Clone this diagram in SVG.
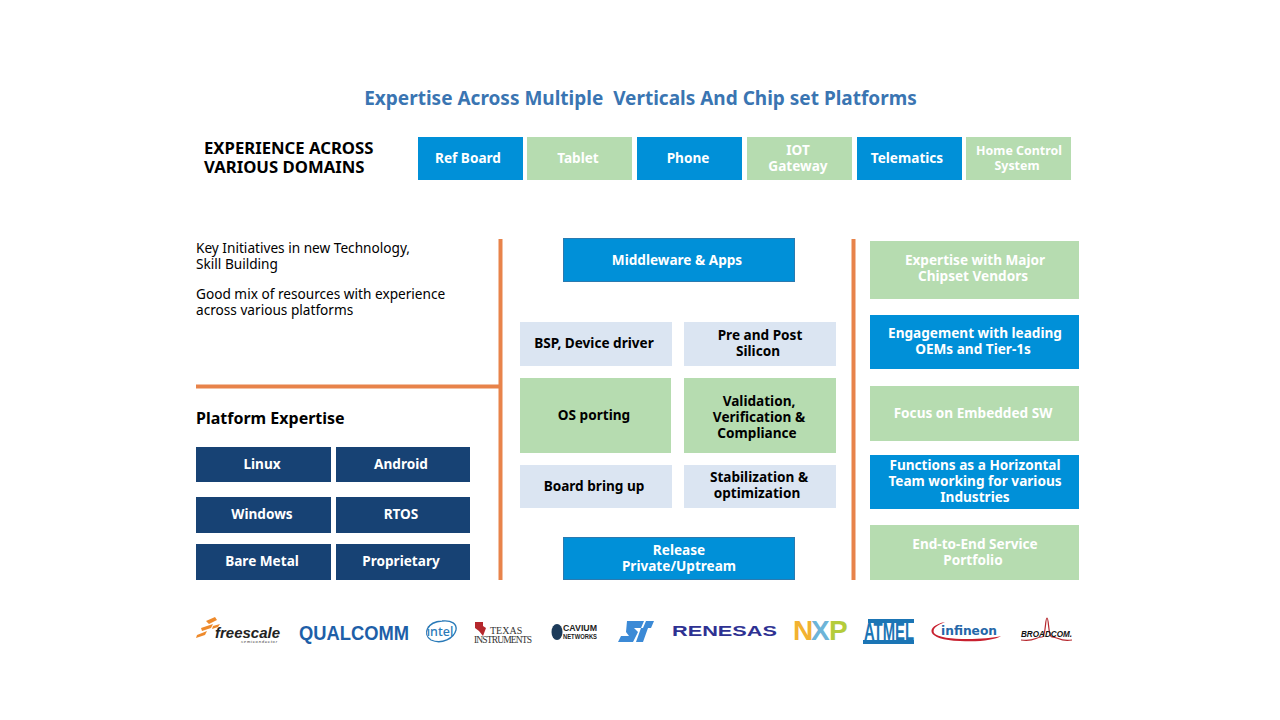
<svg xmlns="http://www.w3.org/2000/svg" width="1280" height="720" viewBox="0 0 1280 720">
<style>
text{font-family:"Noto Sans","Open Sans","Liberation Sans",sans-serif;text-anchor:middle;font-weight:700;font-size:13.600px}
.b{fill:#0090d8}.g{fill:#b6dcb0}.l{fill:#dbe5f2}.n{fill:#174274}
.w{fill:#fff}.k{fill:#000}
.d{fill:#000;font-weight:400;text-anchor:start;font-size:13.650px}
.h{fill:#000;text-anchor:start;font-size:16.700px}
.o{fill:none;stroke:#e8834a}
.m{fill:#0090d8;stroke:#2a7ab0;stroke-width:1}
.a{font-family:"Liberation Sans",sans-serif;text-anchor:start}
</style>
<rect width="1280" height="720" fill="#fff"/>
<text id="title" x="640.500" y="105" xml:space="preserve" style="font-size:19px;white-space:pre" fill="#3a75b2">Expertise Across Multiple  Verticals And Chip set Platforms</text>
<g id="domains-label"><text class="h" x="204" y="154">EXPERIENCE ACROSS</text><text class="h" x="204" y="173">VARIOUS DOMAINS</text></g>
<g id="domain-ref"><rect class="b" x="418" y="137" width="105" height="43"/><text class="w" x="468" y="163">Ref Board</text></g>
<g id="domain-tablet"><rect class="g" x="527" y="137" width="105" height="43"/><text class="w" x="578" y="163">Tablet</text></g>
<g id="domain-phone"><rect class="b" x="637" y="137" width="105" height="43"/><text class="w" x="688" y="163">Phone</text></g>
<g id="domain-iot"><rect class="g" x="747" y="137" width="105" height="43"/><text class="w" x="798" y="155">IOT</text><text class="w" x="798" y="171">Gateway</text></g>
<g id="domain-telematics"><rect class="b" x="857" y="137" width="105" height="43"/><text class="w" x="907" y="163">Telematics</text></g>
<g id="domain-home"><rect class="g" x="966" y="137" width="105" height="43"/><text class="w" style="font-size:12.400px" x="1019" y="155">Home Control</text><text class="w" style="font-size:12.400px" x="1017" y="170">System</text></g>
<g id="dividers" class="o"><path stroke-width="4" d="M500.500 239V580M853.500 239V580M196 386.500H499"/></g>
<g id="initiatives"><text class="d" x="196" y="253">Key Initiatives in new Technology,</text><text class="d" x="196" y="269">Skill Building</text><text class="d" x="196" y="299">Good mix of resources with experience</text><text class="d" x="196" y="315">across various platforms</text></g>
<text id="platform-heading" class="h" style="font-size:16px" x="196" y="424">Platform Expertise</text>
<g id="p-linux"><rect class="n" x="196" y="447" width="135" height="35"/><text class="w" x="262" y="469">Linux</text></g>
<g id="p-android"><rect class="n" x="336" y="447" width="134" height="35"/><text class="w" x="401" y="469">Android</text></g>
<g id="p-windows"><rect class="n" x="196" y="497" width="135" height="36"/><text class="w" x="262" y="519">Windows</text></g>
<g id="p-rtos"><rect class="n" x="336" y="497" width="134" height="36"/><text class="w" x="401" y="519">RTOS</text></g>
<g id="p-bare"><rect class="n" x="196" y="544" width="135" height="36"/><text class="w" x="262" y="566">Bare Metal</text></g>
<g id="p-prop"><rect class="n" x="336" y="544" width="134" height="36"/><text class="w" x="401" y="566">Proprietary</text></g>
<g id="c-mw"><rect class="m" x="563.500" y="238.500" width="231" height="43"/><text class="w" x="677" y="265">Middleware &amp; Apps</text></g>
<g id="c-bsp"><rect class="l" x="520" y="322" width="152" height="44"/><text class="k" x="594" y="348">BSP, Device driver</text></g>
<g id="c-pre"><rect class="l" x="684" y="322" width="152" height="44"/><text class="k" x="760" y="340">Pre and Post</text><text class="k" x="758" y="356">Silicon</text></g>
<g id="c-os"><rect class="g" x="520" y="378" width="151" height="75"/><text class="k" x="594" y="420">OS porting</text></g>
<g id="c-val"><rect class="g" x="684" y="378" width="152" height="75"/><text class="k" x="759" y="406">Validation,</text><text class="k" x="759" y="422">Verification &amp;</text><text class="k" x="757" y="438">Compliance</text></g>
<g id="c-board"><rect class="l" x="520" y="465" width="152" height="43"/><text class="k" x="594" y="491">Board bring up</text></g>
<g id="c-stab"><rect class="l" x="684" y="465" width="152" height="43"/><text class="k" x="759" y="482">Stabilization &amp;</text><text class="k" x="757" y="498">optimization</text></g>
<g id="c-rel"><rect class="m" x="563.500" y="537.500" width="231" height="42"/><text class="w" x="679" y="555">Release</text><text class="w" x="679" y="571">Private/Uptream</text></g>
<g id="r-vendors"><rect class="g" x="870" y="241" width="209" height="58"/><text class="w" x="975" y="265">Expertise with Major</text><text class="w" x="973" y="281">Chipset Vendors</text></g>
<g id="r-oems"><rect class="b" x="870" y="315" width="209" height="54"/><text class="w" x="975" y="338">Engagement with leading</text><text class="w" x="973" y="354">OEMs and Tier-1s</text></g>
<g id="r-focus"><rect class="g" x="870" y="386" width="209" height="55"/><text class="w" x="973" y="418">Focus on Embedded SW</text></g>
<g id="r-team"><rect class="b" x="870" y="455" width="209" height="54"/><text class="w" x="975" y="470">Functions as a Horizontal</text><text class="w" x="975" y="486">Team working for various</text><text class="w" x="975" y="502">Industries</text></g>
<g id="r-svc"><rect class="g" x="870" y="525" width="209" height="55"/><text class="w" x="975" y="549">End-to-End Service</text><text class="w" x="973" y="565">Portfolio</text></g>
<g id="logos">
<g id="logo-freescale"><path d="M197 635l10-4-2 4-9 3zM201 628l12-4-2 4-9 3zM206 621l9-4 2 3-8 4zM213 626l7-2-2 3-6 2z" fill="#ee8a2c"/><text class="a" x="215" y="638" style="font-size:14px;font-style:italic" textLength="65" lengthAdjust="spacingAndGlyphs" fill="#222">freescale</text><text class="a" x="241" y="643" style="font-size:4px;font-style:italic;font-weight:400" textLength="36" fill="#333">semiconductor</text></g>
<text id="logo-qualcomm" class="a" x="299" y="640" style="font-size:20px" textLength="110" lengthAdjust="spacingAndGlyphs" fill="#1e5fa8">QUALCOMM</text>
<g id="logo-intel"><path d="M431 640C422 634 427 622 442 621C452 620 457 624 456 630C454 638 442 645 431 640Z" fill="none" stroke="#2a7ab8" stroke-width="1.300"/><text x="440" y="636" style="font-size:12.500px;font-weight:500" fill="#2a7ab8">intel</text></g>
<g id="logo-ti"><path d="M475 622h8v4l3 2-3 8-4-5-4-3z" fill="#b5272d"/><text x="490" y="634" style="font-family:'Liberation Serif',serif;font-size:10px;font-weight:400;text-anchor:start" fill="#333">TEXAS</text><text x="474" y="643" style="font-family:'Liberation Serif',serif;font-size:9.500px;font-weight:400;text-anchor:start" textLength="58" fill="#333">INSTRUMENTS</text></g>
<g id="logo-cavium"><ellipse cx="557" cy="632" rx="5.500" ry="8" fill="#1c3b5a"/><text class="a" x="563" y="631" style="font-size:9px" textLength="34" lengthAdjust="spacingAndGlyphs" fill="#222">CAVIUM</text><text class="a" x="563" y="639" style="font-size:7.500px" textLength="34" lengthAdjust="spacingAndGlyphs" fill="#222">NETWORKS</text></g>
<path id="logo-st" d="M627 621H644L641 628H634L638 632L633 642H618L621 636H629L626 632ZM646 621H654L651 628H648L643 642H636L641 628H643Z" fill="#3c8ad6"/>
<text id="logo-renesas" class="a" x="672" y="636" style="font-size:15px" textLength="105" lengthAdjust="spacingAndGlyphs" fill="#2e3192">RENESAS</text>
<g id="logo-nxp"><text class="a" x="793" y="640" style="font-size:28px" fill="#f2b230">N</text><text class="a" x="811" y="640" style="font-size:28px" fill="#6db4d8">X</text><text class="a" x="829" y="640" style="font-size:28px" fill="#b4cc3a">P</text></g>
<g id="logo-atmel"><path d="M868 619h46v4h-46zM863 640h51v4h-51z" fill="#1b75b5"/><text class="a" x="864" y="640" style="font-size:24px" textLength="50" lengthAdjust="spacingAndGlyphs" fill="#1b75b5">ATMEL</text></g>
<g id="logo-infineon"><path d="M945 622C925 626 925 640 960 641C980 642 995 640 1001 636C985 640 940 641 934 633C932 628 938 625 945 622Z" fill="#c8202f"/><text x="941" y="635" style="font-family:'DejaVu Sans',sans-serif;font-size:12px;font-weight:700;text-anchor:start" textLength="56" lengthAdjust="spacingAndGlyphs" fill="#2466a8">infineon</text></g>
<g id="logo-broadcom"><path d="M1021 640c14 2 14-3 21-3 4 0 3-19 5-19s1 19 5 19c7 0 7 5 20 3" fill="none" stroke="#b5272d" stroke-width="1.200"/><text class="a" x="1021" y="637" style="font-size:9px;font-style:italic" textLength="51" lengthAdjust="spacingAndGlyphs" fill="#111">BROADCOM.</text></g>
</g>
</svg>
